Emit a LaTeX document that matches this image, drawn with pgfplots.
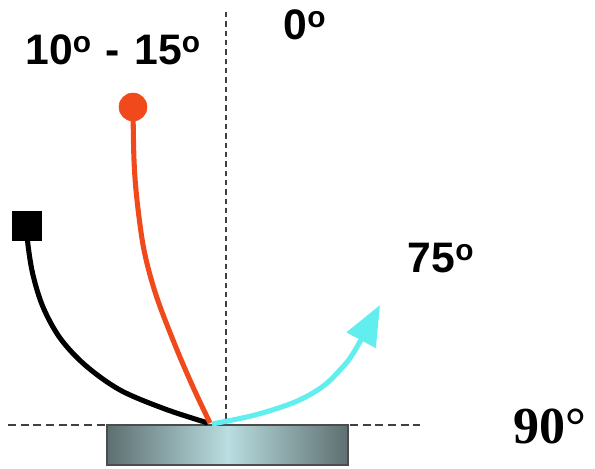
\documentclass[border=0pt]{standalone}
\usepackage{pgfplots}
\pgfplotsset{compat=1.18}
\usetikzlibrary{arrows.meta}
\usepackage{fontspec}
\setmainfont{Liberation Sans}
\newfontfamily\serifb{Liberation Serif}
\definecolor{redline}{HTML}{F04A1C}
\definecolor{cyanline}{HTML}{62EDEE}
\definecolor{dashgray}{HTML}{404040}
\definecolor{platedark}{HTML}{5E6F70}
\definecolor{platelight}{HTML}{B9DDE0}
\newcommand{\dg}{\textsuperscript{o}}
\newcommand{\lbl}{\bfseries\fontsize{32}{32}\selectfont}
\begin{document}
\begin{tikzpicture}
\path[use as bounding box] (0,0) rectangle (446.25pt,351pt);
\begin{axis}[
  at={(0,0)}, anchor=south west,
  width=446.25pt, height=351pt, scale only axis,
  xmin=0, xmax=595, ymin=0, ymax=468, y dir=reverse,
  axis lines=none, clip=false,
]
% reference lines
\addplot[dashgray, line width=1.8pt, dash pattern=on 6pt off 3.5pt]
  coordinates {(8,425) (420,425)};
\addplot[dashgray, line width=1.6pt, dash pattern=on 4pt off 3pt]
  coordinates {(226,12) (226,425)};
% plate
\addplot[draw=black!70, line width=1pt, left color=platedark, right color=platedark, middle color=platelight]
  coordinates {(107,425) (348,425) (348,465) (107,465)} -- cycle;
% black
\addplot[black, line width=3.8pt, smooth, tension=0.55,
  mark=square*, mark size=11pt, mark indices={1}, mark options={line width=0.4pt}]
  coordinates {(27,226) (28,245) (33,275) (43,307) (60,338) (85,365) (120,390) (165,409) (208,423)};
% red
\addplot[redline, line width=3.8pt, smooth, tension=0.55,
  mark=*, mark size=10.5pt, mark indices={1}, mark options={line width=0.4pt}]
  coordinates {(133,107) (134,160) (137,200) (144,250) (156,295) (175,345) (193,387) (210,423)};
% cyan
\addplot[cyanline, line width=3.8pt, smooth, tension=0.55,
  -{Triangle[length=30pt,width=24pt]}]
  coordinates {(212,424) (255,415) (295,402) (322,387) (340,370) (354,352) (380,305)};
% labels
\node[font=\lbl] at (axis cs:113,50) {10\dg\,\,-\,\,15\dg};
\node[font=\lbl] at (axis cs:305,25) {0\dg};
\node[font=\lbl] at (axis cs:441,258) {75\dg};
\node[font=\serifb\bfseries\fontsize{39}{39}\selectfont] at (axis cs:550,426) {90°};
\end{axis}
\end{tikzpicture}
\end{document}
